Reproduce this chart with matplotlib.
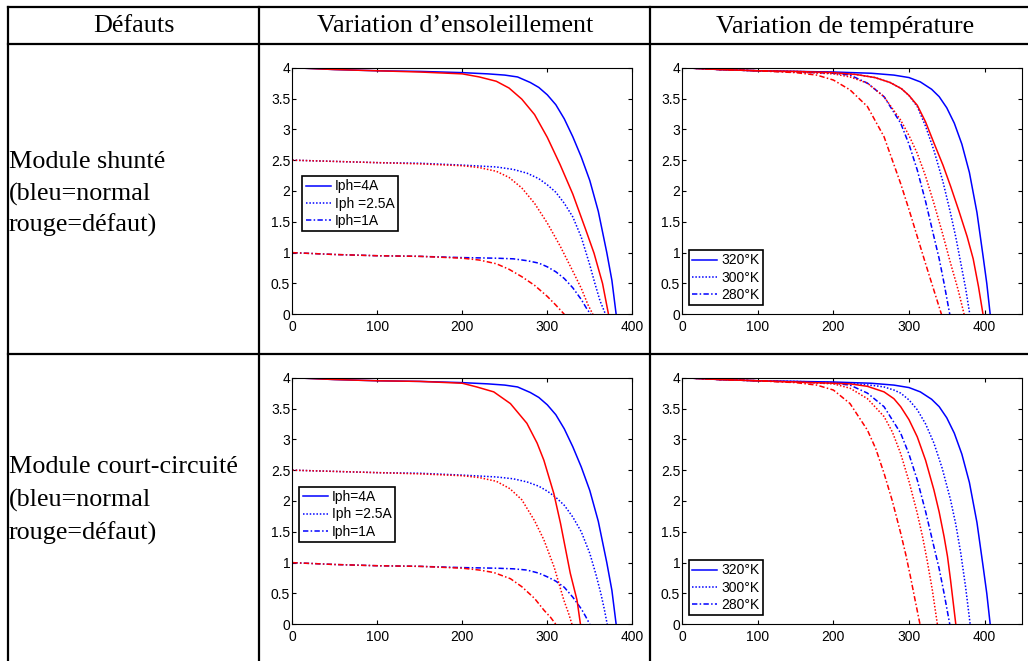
import matplotlib
matplotlib.use("Agg")
import matplotlib.pyplot as plt
from matplotlib.lines import Line2D

# ---------------- data ----------------
header_labels = ["Défauts", "Variation d\u2019ensoleillement", "Variation de température"]
row1_labels = ["Module shunté", "(bleu=normal", "rouge=défaut)"]
row2_labels = ["Module court-circuité", "(bleu=normal", "rouge=défaut)"]

legend_irr = ["Iph=4A", "Iph =2.5A", "Iph=1A"]
legend_temp = ["320°K", "300°K", "280°K"]

yticks = [0, 0.5, 1, 1.5, 2, 2.5, 3, 3.5, 4]
ytick_labels = ["0", "0.5", "1", "1.5", "2", "2.5", "3", "3.5", "4"]
xticks = [0, 100, 200, 300, 400]
xtick_labels = ["0", "100", "200", "300", "400"]

# Panel 1: irradiance variation, shunted module
p1_blue_4_v = [0, 50, 100, 150, 200, 230, 250, 265, 280, 290, 300, 310, 320, 330, 340, 350, 360, 370, 376, 381]
p1_blue_4_i = [4.0, 3.97, 3.95, 3.94, 3.92, 3.9, 3.88, 3.85, 3.76, 3.68, 3.56, 3.40, 3.17, 2.88, 2.55, 2.17, 1.67, 1.0, 0.55, 0]
p1_red_4_v = [0, 50, 100, 150, 200, 220, 240, 255, 270, 285, 300, 315, 330, 345, 355, 365, 372]
p1_red_4_i = [4.0, 3.97, 3.95, 3.93, 3.9, 3.85, 3.78, 3.67, 3.49, 3.24, 2.87, 2.43, 1.95, 1.38, 0.99, 0.5, 0]
p1_blue_25_v = [0, 50, 100, 150, 200, 240, 260, 276, 290, 300, 310, 320, 330, 340, 350, 356, 362, 368.5]
p1_blue_25_i = [2.5, 2.48, 2.46, 2.45, 2.42, 2.39, 2.35, 2.29, 2.2, 2.1, 1.98, 1.8, 1.58, 1.25, 0.8, 0.5, 0.22, 0]
p1_red_25_v = [0, 50, 100, 150, 200, 220, 240, 255, 270, 285, 300, 315, 330, 340, 348, 353.6]
p1_red_25_i = [2.5, 2.48, 2.46, 2.44, 2.41, 2.38, 2.32, 2.22, 2.05, 1.8, 1.48, 1.11, 0.7, 0.42, 0.15, 0]
p1_blue_1_v = [0, 50, 100, 150, 200, 240, 260, 276, 290, 300, 310, 320, 330, 340, 346, 351]
p1_blue_1_i = [1.0, 0.97, 0.95, 0.94, 0.92, 0.91, 0.9, 0.87, 0.83, 0.77, 0.69, 0.58, 0.43, 0.24, 0.1, 0]
p1_red_1_v = [0, 50, 100, 150, 200, 220, 240, 255, 270, 285, 300, 310, 320]
p1_red_1_i = [1.0, 0.97, 0.95, 0.94, 0.91, 0.88, 0.82, 0.73, 0.61, 0.47, 0.29, 0.15, 0]

# Panel 2: temperature variation, shunted module
p2_blue_320_v = [0, 50, 100, 150, 200, 250, 280, 300, 315, 330, 340, 350, 360, 370, 380, 390, 398, 403, 407.5]
p2_blue_320_i = [4.0, 3.97, 3.95, 3.94, 3.93, 3.91, 3.88, 3.84, 3.77, 3.65, 3.53, 3.35, 3.1, 2.76, 2.3, 1.65, 0.95, 0.5, 0]
p2_red_320_v = [0, 50, 100, 150, 200, 230, 255, 275, 290, 300, 311, 322, 333, 345, 355, 366, 377, 385, 392, 398]
p2_red_320_i = [4.0, 3.97, 3.95, 3.94, 3.92, 3.89, 3.84, 3.76, 3.66, 3.55, 3.39, 3.12, 2.78, 2.42, 2.08, 1.68, 1.26, 0.9, 0.45, 0]
p2_blue_300_v = [0, 50, 100, 150, 200, 230, 255, 275, 290, 300, 311, 322, 333, 345, 355, 362, 368.6, 375, 380.5]
p2_blue_300_i = [4.0, 3.97, 3.95, 3.94, 3.92, 3.89, 3.84, 3.76, 3.66, 3.55, 3.37, 3.05, 2.66, 2.15, 1.64, 1.25, 0.83, 0.42, 0]
p2_red_300_v = [0, 50, 100, 150, 200, 222, 245, 267, 289, 300, 311, 322, 333, 344, 355, 365, 373]
p2_red_300_i = [4.0, 3.97, 3.95, 3.93, 3.9, 3.85, 3.75, 3.53, 3.15, 2.9, 2.61, 2.24, 1.8, 1.33, 0.83, 0.4, 0]
p2_blue_280_v = [0, 50, 100, 150, 200, 222, 245, 267, 289, 300, 311, 322, 333, 340, 346.5, 354]
p2_blue_280_i = [4.0, 3.97, 3.95, 3.93, 3.91, 3.88, 3.75, 3.53, 3.1, 2.76, 2.34, 1.83, 1.26, 0.9, 0.5, 0]
p2_red_280_v = [0, 50, 100, 150, 178, 200, 222, 245, 267, 289, 300, 311, 322, 333, 343]
p2_red_280_i = [4.0, 3.97, 3.95, 3.92, 3.88, 3.8, 3.64, 3.37, 2.88, 2.12, 1.7, 1.26, 0.82, 0.39, 0]

# Panel 3: irradiance variation, short-circuited module
p3_blue_4_v = [0, 50, 100, 150, 200, 230, 250, 265, 280, 290, 300, 310, 320, 330, 340, 350, 360, 370, 376, 381]
p3_blue_4_i = [4.0, 3.97, 3.95, 3.94, 3.92, 3.9, 3.88, 3.85, 3.76, 3.68, 3.56, 3.40, 3.17, 2.88, 2.55, 2.17, 1.67, 1.0, 0.55, 0]
p3_red_4_v = [0, 50, 100, 150, 200, 217, 237, 256.6, 276, 288, 296, 307.7, 315.5, 327, 335, 339]
p3_red_4_i = [4.0, 3.97, 3.95, 3.94, 3.91, 3.85, 3.77, 3.58, 3.26, 2.94, 2.66, 2.12, 1.64, 0.83, 0.39, 0]
p3_blue_25_v = [0, 50, 100, 150, 200, 240, 260, 276, 290, 300, 310, 320, 330, 340, 350, 357, 363, 367, 370.5]
p3_blue_25_i = [2.5, 2.48, 2.46, 2.45, 2.42, 2.39, 2.36, 2.31, 2.24, 2.16, 2.06, 1.93, 1.74, 1.5, 1.15, 0.82, 0.5, 0.25, 0]
p3_red_25_v = [0, 50, 100, 150, 200, 220, 240, 256, 270, 285, 296, 308, 319.5, 325, 329]
p3_red_25_i = [2.5, 2.48, 2.46, 2.44, 2.41, 2.38, 2.32, 2.2, 2.02, 1.68, 1.37, 0.93, 0.39, 0.18, 0]
p3_blue_1_v = [0, 50, 100, 150, 200, 240, 260, 276, 290, 300, 310, 320, 330, 340, 345, 350]
p3_blue_1_i = [1.0, 0.97, 0.95, 0.94, 0.92, 0.91, 0.9, 0.88, 0.83, 0.77, 0.7, 0.6, 0.44, 0.25, 0.13, 0]
p3_red_1_v = [0, 50, 100, 150, 200, 220, 237, 256.6, 270, 285, 296, 304, 310]
p3_red_1_i = [1.0, 0.97, 0.95, 0.94, 0.91, 0.88, 0.84, 0.74, 0.61, 0.42, 0.23, 0.11, 0]

# Panel 4: temperature variation, short-circuited module
p4_blue_320_v = [0, 50, 100, 150, 200, 250, 280, 300, 315, 330, 340, 350, 360, 370, 380, 390, 398, 403, 407.5]
p4_blue_320_i = [4.0, 3.97, 3.95, 3.94, 3.93, 3.91, 3.88, 3.84, 3.77, 3.65, 3.53, 3.35, 3.1, 2.76, 2.3, 1.65, 0.95, 0.5, 0]
p4_red_320_v = [0, 50, 100, 150, 200, 222, 245, 267, 280, 289, 300, 311, 322, 333, 340, 346.5, 351, 355, 362]
p4_red_320_i = [4.0, 3.97, 3.95, 3.93, 3.91, 3.9, 3.86, 3.77, 3.66, 3.53, 3.32, 3.04, 2.66, 2.18, 1.82, 1.42, 1.1, 0.72, 0]
p4_blue_300_v = [0, 50, 100, 150, 200, 230, 255, 267, 280, 289, 300, 311, 322, 333, 344, 355, 362, 368.6, 375, 381]
p4_blue_300_i = [4.0, 3.97, 3.95, 3.94, 3.92, 3.9, 3.87, 3.85, 3.8, 3.75, 3.64, 3.48, 3.25, 2.94, 2.53, 2.02, 1.62, 1.15, 0.6, 0]
p4_red_300_v = [0, 50, 100, 150, 200, 222, 245, 267, 278, 289, 300, 311, 318, 324, 331, 337.6]
p4_red_300_i = [4.0, 3.97, 3.95, 3.93, 3.9, 3.83, 3.66, 3.37, 3.12, 2.77, 2.32, 1.8, 1.42, 1.04, 0.55, 0]
p4_blue_280_v = [0, 50, 100, 150, 200, 222, 245, 267, 289, 300, 311, 322, 333, 340, 346.5, 354]
p4_blue_280_i = [4.0, 3.97, 3.95, 3.93, 3.91, 3.88, 3.75, 3.53, 3.1, 2.76, 2.34, 1.83, 1.26, 0.9, 0.5, 0]
p4_red_280_v = [0, 50, 100, 150, 178, 200, 222, 245, 256, 267, 278, 289, 296, 302, 308, 314.6]
p4_red_280_i = [4.0, 3.97, 3.95, 3.92, 3.88, 3.8, 3.58, 3.15, 2.85, 2.45, 2.0, 1.48, 1.12, 0.77, 0.4, 0]

# ---------------- styling ----------------
W, H = 1028, 661
BLUE = (0, 0, 1)
RED = (1, 0, 0)
LS_SOLID = "-"
LS_DOT = (0, (1, 1.2))
LS_DASHDOT = (0, (3.5, 1.5, 1, 1.5))
LW = 1.1
TICK_FONT = "Liberation Sans"
TABLE_FONT = "Liberation Serif"

fig = plt.figure(figsize=(W / 100, H / 100), dpi=100)
fig.patch.set_facecolor("white")


def fx(px):
    return px / W


def fy(py):
    return 1 - py / H


def add_axes_px(left, top, right, bottom):
    return fig.add_axes([fx(left), fy(bottom), (right - left) / W, (bottom - top) / H])


def hline(y, x0, x1):
    fig.add_artist(Line2D([fx(x0), fx(x1)], [fy(y), fy(y)], transform=fig.transFigure,
                          color="black", lw=1.6, solid_capstyle="projecting"))


def vline(x, y0, y1):
    fig.add_artist(Line2D([fx(x), fx(x)], [fy(y0), fy(y1)], transform=fig.transFigure,
                          color="black", lw=1.6, solid_capstyle="projecting"))


# table grid
hline(7, 8, 1030)
hline(44, 8, 1030)
hline(354.3, 8, 1030)
vline(8, 7, 665)
vline(259.3, 7, 665)
vline(650, 7, 665)

# header texts
fs_tab = 18.8
fig.text(fx(133.5), fy(32.5), header_labels[0], ha="center", va="baseline",
         fontsize=fs_tab, family=TABLE_FONT)
fig.text(fx(455), fy(32.5), header_labels[1], ha="center", va="baseline",
         fontsize=fs_tab, family=TABLE_FONT)
fig.text(fx(844.7), fy(32.5), header_labels[2], ha="center", va="baseline",
         fontsize=fs_tab, family=TABLE_FONT)

for lab, yb in zip(row1_labels, [168, 200.5, 232]):
    fig.text(fx(9), fy(yb), lab, ha="left", va="baseline", fontsize=fs_tab, family=TABLE_FONT)
for lab, yb in zip(row2_labels, [473, 507, 540]):
    fig.text(fx(9), fy(yb), lab, ha="left", va="baseline", fontsize=fs_tab, family=TABLE_FONT)


def style_axes(ax, xmax):
    ax.set_xlim(0, xmax)
    ax.set_ylim(0, 4)
    ax.set_xticks(xticks)
    ax.set_xticklabels(xtick_labels)
    ax.set_yticks(yticks)
    ax.set_yticklabels(ytick_labels)
    ax.tick_params(axis="both", direction="in", length=3, width=0.8, top=True, right=True,
                   labelsize=10, colors="black")
    ax.tick_params(axis="x", pad=4.0)
    ax.tick_params(axis="y", pad=1.5)
    for lab in ax.get_xticklabels() + ax.get_yticklabels():
        lab.set_family(TICK_FONT)
    for sp in ax.spines.values():
        sp.set_linewidth(0.8)
        sp.set_color("black")


def add_legend(ax, handles, labels, ax_x, ax_y):
    leg = ax.legend(handles, labels, loc="upper left", bbox_to_anchor=(ax_x, ax_y),
                    prop={"family": TICK_FONT, "size": 10}, frameon=True, fancybox=False,
                    edgecolor="black", framealpha=1, borderpad=0.25, labelspacing=0.23,
                    handlelength=1.8, handletextpad=0.28, borderaxespad=0)
    leg.get_frame().set_linewidth(1.2)


# Panel 1
ax1 = add_axes_px(292.3, 67.7, 632.3, 314.3)
h1, = ax1.plot(p1_blue_4_v, p1_blue_4_i, color=BLUE, ls=LS_SOLID, lw=LW)
h2, = ax1.plot(p1_blue_25_v, p1_blue_25_i, color=BLUE, ls=LS_DOT, lw=LW)
h3, = ax1.plot(p1_blue_1_v, p1_blue_1_i, color=BLUE, ls=LS_DASHDOT, lw=LW)
ax1.plot(p1_red_4_v, p1_red_4_i, color=RED, ls=LS_SOLID, lw=LW)
ax1.plot(p1_red_25_v, p1_red_25_i, color=RED, ls=LS_DOT, lw=LW)
ax1.plot(p1_red_1_v, p1_red_1_i, color=RED, ls=LS_DASHDOT, lw=LW)
style_axes(ax1, 400)
add_legend(ax1, [h1, h2, h3], legend_irr, 0.0294, 0.5608)

# Panel 2
ax2 = add_axes_px(682.3, 67.7, 1022.3, 314.3)
g1, = ax2.plot(p2_blue_320_v, p2_blue_320_i, color=BLUE, ls=LS_SOLID, lw=LW)
g2, = ax2.plot(p2_blue_300_v, p2_blue_300_i, color=BLUE, ls=LS_DOT, lw=LW)
g3, = ax2.plot(p2_blue_280_v, p2_blue_280_i, color=BLUE, ls=LS_DASHDOT, lw=LW)
ax2.plot(p2_red_320_v, p2_red_320_i, color=RED, ls=LS_SOLID, lw=LW)
ax2.plot(p2_red_300_v, p2_red_300_i, color=RED, ls=LS_DOT, lw=LW)
ax2.plot(p2_red_280_v, p2_red_280_i, color=RED, ls=LS_DASHDOT, lw=LW)
style_axes(ax2, 450)
add_legend(ax2, [g1, g2, g3], legend_temp, 0.0197, 0.2607)

# Panel 3
ax3 = add_axes_px(292.3, 377.7, 632.3, 624.3)
k1, = ax3.plot(p3_blue_4_v, p3_blue_4_i, color=BLUE, ls=LS_SOLID, lw=LW)
k2, = ax3.plot(p3_blue_25_v, p3_blue_25_i, color=BLUE, ls=LS_DOT, lw=LW)
k3, = ax3.plot(p3_blue_1_v, p3_blue_1_i, color=BLUE, ls=LS_DASHDOT, lw=LW)
ax3.plot(p3_red_4_v, p3_red_4_i, color=RED, ls=LS_SOLID, lw=LW)
ax3.plot(p3_red_25_v, p3_red_25_i, color=RED, ls=LS_DOT, lw=LW)
ax3.plot(p3_red_1_v, p3_red_1_i, color=RED, ls=LS_DASHDOT, lw=LW)
style_axes(ax3, 400)
add_legend(ax3, [k1, k2, k3], legend_irr, 0.0206, 0.558)

# Panel 4
ax4 = add_axes_px(682.3, 377.7, 1022.3, 624.3)
m1, = ax4.plot(p4_blue_320_v, p4_blue_320_i, color=BLUE, ls=LS_SOLID, lw=LW)
m2, = ax4.plot(p4_blue_300_v, p4_blue_300_i, color=BLUE, ls=LS_DOT, lw=LW)
m3, = ax4.plot(p4_blue_280_v, p4_blue_280_i, color=BLUE, ls=LS_DASHDOT, lw=LW)
ax4.plot(p4_red_320_v, p4_red_320_i, color=RED, ls=LS_SOLID, lw=LW)
ax4.plot(p4_red_300_v, p4_red_300_i, color=RED, ls=LS_DOT, lw=LW)
ax4.plot(p4_red_280_v, p4_red_280_i, color=RED, ls=LS_DASHDOT, lw=LW)
style_axes(ax4, 450)
add_legend(ax4, [m1, m2, m3], legend_temp, 0.0197, 0.2607)

fig.savefig("out.png", dpi=100, facecolor="white")
